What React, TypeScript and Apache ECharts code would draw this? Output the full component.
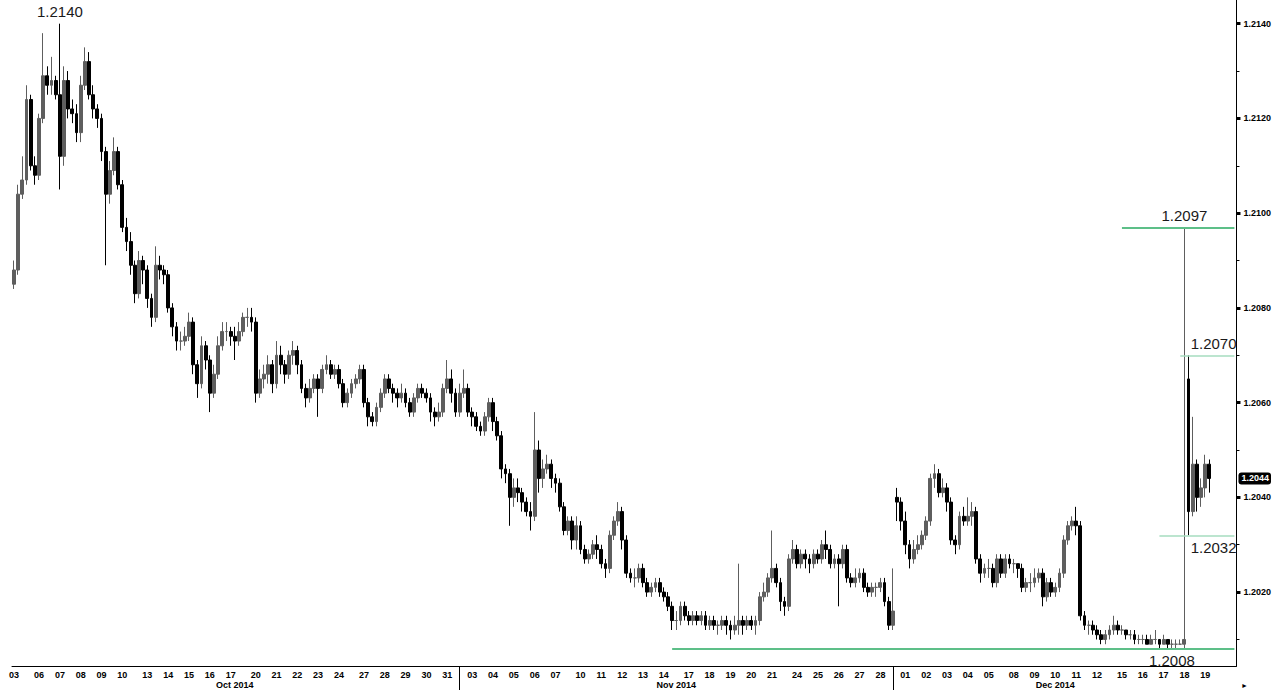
import React, { useEffect, useRef } from 'react';
import * as echarts from 'echarts';

// ---- Axis content ----
const octDays = ['03', '06', '07', '08', '09', '10', '13', '14', '15', '16', '17', '20', '21', '22', '23', '24', '27', '28', '29', '30', '31'];
const novDays = ['03', '04', '05', '06', '07', '10', '11', '12', '13', '14', '17', '18', '19', '20', '21', '24', '25', '26', '27', '28'];
const decDays = ['01', '02', '03', '04', '05', '08', '09', '10', '11', '12', '15', '16', '17', '18', '19'];
const monthKeys = ['Oct', 'Nov', 'Dec'];
const monthNames = ['Oct 2014', 'Nov 2014', 'Dec 2014'];
const monthNumbers = [9, 10, 11];

const yTickLabels = [1.2020, 1.2040, 1.2060, 1.2080, 1.2100, 1.2120, 1.2140];
const yMinorTicks = [1.2010, 1.2020, 1.2030, 1.2040, 1.2050, 1.2060, 1.2070, 1.2080, 1.2090, 1.2100, 1.2110, 1.2120, 1.2130, 1.2140];
const yMin = 1.20044;
const yMax = 1.2145;

// ---- OHLC bars [open, close, low, high], ~5 per trading day plus a Sunday slot ----
const wkOct03 = [
  [1.2085, 1.2088, 1.2084, 1.2090], [1.2088, 1.2104, 1.2087, 1.2106], [1.2104, 1.2107, 1.2103, 1.2112], [1.2107, 1.2124, 1.2106, 1.2127],
];
const wkOct06 = [
  [1.2124, 1.2110, 1.2109, 1.2125], [1.2110, 1.2108, 1.2106, 1.2112], [1.2108, 1.2120, 1.2107, 1.2121], [1.2120, 1.2129, 1.2119, 1.2138], [1.2129, 1.2127, 1.2125, 1.2131],
  [1.2127, 1.2128, 1.2125, 1.2133], [1.2128, 1.2125, 1.2124, 1.2129], [1.2125, 1.2112, 1.2105, 1.2140], [1.2112, 1.2128, 1.2110, 1.2131], [1.2128, 1.2122, 1.2120, 1.2130],
  [1.2122, 1.2121, 1.2119, 1.2124], [1.2121, 1.2117, 1.2115, 1.2123], [1.2117, 1.2127, 1.2115, 1.2129], [1.2127, 1.2132, 1.2126, 1.2135], [1.2132, 1.2125, 1.2124, 1.2134],
  [1.2125, 1.2122, 1.2120, 1.2127], [1.2122, 1.2120, 1.2118, 1.2123], [1.2120, 1.2113, 1.2111, 1.2121], [1.2113, 1.2104, 1.2089, 1.2114], [1.2104, 1.2109, 1.2102, 1.2111],
  [1.2109, 1.2113, 1.2108, 1.2116], [1.2113, 1.2106, 1.2105, 1.2114], [1.2106, 1.2097, 1.2096, 1.2107], [1.2097, 1.2094, 1.2092, 1.2099], [1.2094, 1.2089, 1.2087, 1.2096],
  [1.2089, 1.2083, 1.2081, 1.2090],
];
const wkOct13 = [
  [1.2083, 1.2090, 1.2082, 1.2092], [1.2090, 1.2088, 1.2085, 1.2091], [1.2088, 1.2082, 1.2080, 1.2089], [1.2082, 1.2078, 1.2076, 1.2083], [1.2078, 1.2089, 1.2077, 1.2093],
  [1.2089, 1.2088, 1.2086, 1.2091], [1.2088, 1.2087, 1.2085, 1.2089], [1.2087, 1.2080, 1.2079, 1.2088], [1.2080, 1.2076, 1.2074, 1.2081], [1.2076, 1.2073, 1.2071, 1.2077],
  [1.2073, 1.2073, 1.2071, 1.2075], [1.2073, 1.2074, 1.2072, 1.2076], [1.2074, 1.2077, 1.2073, 1.2079], [1.2077, 1.2068, 1.2066, 1.2078], [1.2068, 1.2064, 1.2061, 1.2069],
  [1.2064, 1.2072, 1.2063, 1.2074], [1.2072, 1.2069, 1.2067, 1.2073], [1.2069, 1.2062, 1.2058, 1.2070], [1.2062, 1.2066, 1.2061, 1.2068], [1.2066, 1.2072, 1.2065, 1.2074],
  [1.2072, 1.2075, 1.2071, 1.2077], [1.2075, 1.2075, 1.2073, 1.2077], [1.2075, 1.2074, 1.2072, 1.2076], [1.2074, 1.2073, 1.2069, 1.2076], [1.2073, 1.2075, 1.2072, 1.2077],
  [1.2075, 1.2078, 1.2074, 1.2079],
];
const wkOct20 = [
  [1.2078, 1.2078, 1.2076, 1.2080], [1.2078, 1.2077, 1.2075, 1.2080], [1.2077, 1.2062, 1.2060, 1.2078], [1.2062, 1.2065, 1.2061, 1.2067], [1.2065, 1.2066, 1.2063, 1.2068],
  [1.2066, 1.2068, 1.2064, 1.2070], [1.2068, 1.2064, 1.2062, 1.2069], [1.2064, 1.2070, 1.2063, 1.2073], [1.2070, 1.2068, 1.2066, 1.2072], [1.2068, 1.2066, 1.2064, 1.2069],
  [1.2066, 1.2070, 1.2065, 1.2071], [1.2070, 1.2071, 1.2068, 1.2073], [1.2071, 1.2068, 1.2066, 1.2072], [1.2068, 1.2063, 1.2062, 1.2069], [1.2063, 1.2061, 1.2059, 1.2064],
  [1.2061, 1.2063, 1.2060, 1.2065], [1.2063, 1.2065, 1.2062, 1.2066], [1.2065, 1.2063, 1.2057, 1.2066], [1.2063, 1.2067, 1.2062, 1.2068], [1.2067, 1.2068, 1.2066, 1.2070],
  [1.2068, 1.2066, 1.2065, 1.2069], [1.2066, 1.2067, 1.2065, 1.2068], [1.2067, 1.2064, 1.2063, 1.2068], [1.2064, 1.2060, 1.2059, 1.2065], [1.2060, 1.2062, 1.2059, 1.2063],
  [1.2062, 1.2064, 1.2061, 1.2065],
];
const wkOct27 = [
  [1.2064, 1.2065, 1.2063, 1.2066], [1.2065, 1.2067, 1.2064, 1.2068], [1.2067, 1.2060, 1.2059, 1.2068], [1.2060, 1.2057, 1.2055, 1.2061], [1.2057, 1.2056, 1.2055, 1.2058],
  [1.2056, 1.2059, 1.2055, 1.2060], [1.2059, 1.2062, 1.2058, 1.2063], [1.2062, 1.2065, 1.2061, 1.2066], [1.2065, 1.2063, 1.2062, 1.2066], [1.2063, 1.2062, 1.2060, 1.2064],
  [1.2062, 1.2061, 1.2059, 1.2063], [1.2061, 1.2062, 1.2060, 1.2064], [1.2062, 1.2060, 1.2059, 1.2063], [1.2060, 1.2058, 1.2057, 1.2061], [1.2058, 1.2061, 1.2057, 1.2062],
  [1.2061, 1.2063, 1.2060, 1.2064], [1.2063, 1.2062, 1.2061, 1.2064], [1.2062, 1.2061, 1.2060, 1.2063], [1.2061, 1.2058, 1.2056, 1.2062], [1.2058, 1.2057, 1.2055, 1.2059],
  [1.2057, 1.2058, 1.2056, 1.2060], [1.2058, 1.2063, 1.2057, 1.2064], [1.2063, 1.2065, 1.2062, 1.2069], [1.2065, 1.2062, 1.2060, 1.2067], [1.2062, 1.2058, 1.2057, 1.2063],
  [1.2058, 1.2062, 1.2057, 1.2064],
];
const wkNov03 = [
  [1.2062, 1.2063, 1.2061, 1.2067], [1.2063, 1.2058, 1.2057, 1.2064], [1.2058, 1.2057, 1.2055, 1.2059], [1.2057, 1.2055, 1.2054, 1.2058], [1.2055, 1.2054, 1.2053, 1.2056],
  [1.2054, 1.2057, 1.2053, 1.2058], [1.2057, 1.2060, 1.2056, 1.2061], [1.2060, 1.2056, 1.2054, 1.2061], [1.2056, 1.2053, 1.2052, 1.2057], [1.2053, 1.2046, 1.2044, 1.2054],
  [1.2046, 1.2045, 1.2043, 1.2047], [1.2045, 1.2040, 1.2034, 1.2046], [1.2040, 1.2042, 1.2038, 1.2044], [1.2042, 1.2041, 1.2039, 1.2044], [1.2041, 1.2039, 1.2037, 1.2042],
  [1.2039, 1.2037, 1.2036, 1.2040], [1.2037, 1.2036, 1.2033, 1.2039], [1.2036, 1.2050, 1.2035, 1.2058], [1.2050, 1.2044, 1.2041, 1.2052], [1.2044, 1.2046, 1.2042, 1.2048],
  [1.2046, 1.2047, 1.2045, 1.2049], [1.2047, 1.2044, 1.2042, 1.2048], [1.2044, 1.2043, 1.2041, 1.2045], [1.2043, 1.2038, 1.2037, 1.2044], [1.2038, 1.2033, 1.2032, 1.2039],
  [1.2033, 1.2035, 1.2032, 1.2036],
];
const wkNov10 = [
  [1.2035, 1.2031, 1.2029, 1.2036], [1.2031, 1.2034, 1.2029, 1.2036], [1.2034, 1.2029, 1.2028, 1.2035], [1.2029, 1.2027, 1.2026, 1.2030], [1.2027, 1.2028, 1.2026, 1.2029],
  [1.2028, 1.2030, 1.2027, 1.2031], [1.2030, 1.2029, 1.2027, 1.2032], [1.2029, 1.2026, 1.2025, 1.2030], [1.2026, 1.2025, 1.2023, 1.2027], [1.2025, 1.2032, 1.2024, 1.2033],
  [1.2032, 1.2035, 1.2031, 1.2036], [1.2035, 1.2037, 1.2034, 1.2039], [1.2037, 1.2031, 1.2029, 1.2038], [1.2031, 1.2024, 1.2023, 1.2032], [1.2024, 1.2023, 1.2022, 1.2025],
  [1.2023, 1.2023, 1.2021, 1.2025], [1.2023, 1.2025, 1.2022, 1.2026], [1.2025, 1.2022, 1.2021, 1.2026], [1.2022, 1.2020, 1.2019, 1.2023], [1.2020, 1.2021, 1.2019, 1.2022],
  [1.2021, 1.2022, 1.2020, 1.2023], [1.2022, 1.2020, 1.2019, 1.2023], [1.2020, 1.2019, 1.2018, 1.2021], [1.2019, 1.2017, 1.2016, 1.2020], [1.2017, 1.2014, 1.2012, 1.2018],
  [1.2014, 1.2014, 1.2012, 1.2016],
];
const wkNov17 = [
  [1.2014, 1.2017, 1.2013, 1.2018], [1.2017, 1.2015, 1.2014, 1.2018], [1.2015, 1.2014, 1.2013, 1.2016], [1.2014, 1.2015, 1.2013, 1.2016], [1.2015, 1.2014, 1.2013, 1.2016],
  [1.2014, 1.2015, 1.2013, 1.2016], [1.2015, 1.2013, 1.2012, 1.2016], [1.2013, 1.2014, 1.2012, 1.2015], [1.2014, 1.2013, 1.2012, 1.2015], [1.2013, 1.2013, 1.2011, 1.2014],
  [1.2013, 1.2014, 1.2012, 1.2015], [1.2014, 1.2013, 1.2011, 1.2015], [1.2013, 1.2012, 1.2010, 1.2014], [1.2012, 1.2013, 1.2011, 1.2015], [1.2013, 1.2014, 1.2011, 1.2026],
  [1.2014, 1.2013, 1.2011, 1.2015], [1.2013, 1.2014, 1.2012, 1.2015], [1.2014, 1.2013, 1.2012, 1.2015], [1.2013, 1.2014, 1.2011, 1.2015], [1.2014, 1.2019, 1.2013, 1.2020],
  [1.2019, 1.2020, 1.2018, 1.2022], [1.2020, 1.2023, 1.2019, 1.2024], [1.2023, 1.2025, 1.2022, 1.2033], [1.2025, 1.2022, 1.2021, 1.2026], [1.2022, 1.2018, 1.2016, 1.2023],
  [1.2018, 1.2017, 1.2015, 1.2019],
];
const wkNov24 = [
  [1.2017, 1.2027, 1.2016, 1.2028], [1.2027, 1.2029, 1.2026, 1.2031], [1.2029, 1.2026, 1.2025, 1.2030], [1.2026, 1.2028, 1.2025, 1.2029], [1.2028, 1.2027, 1.2025, 1.2029],
  [1.2027, 1.2026, 1.2024, 1.2028], [1.2026, 1.2028, 1.2025, 1.2029], [1.2028, 1.2027, 1.2026, 1.2029], [1.2027, 1.2030, 1.2026, 1.2031], [1.2030, 1.2029, 1.2027, 1.2033],
  [1.2029, 1.2026, 1.2025, 1.2030], [1.2026, 1.2027, 1.2025, 1.2028], [1.2027, 1.2026, 1.2017, 1.2028], [1.2026, 1.2029, 1.2025, 1.2030], [1.2029, 1.2023, 1.2022, 1.2030],
  [1.2023, 1.2022, 1.2021, 1.2024], [1.2022, 1.2023, 1.2021, 1.2025], [1.2023, 1.2024, 1.2022, 1.2025], [1.2024, 1.2021, 1.2020, 1.2025], [1.2021, 1.2020, 1.2019, 1.2022],
  [1.2020, 1.2021, 1.2019, 1.2022], [1.2021, 1.2021, 1.2019, 1.2022], [1.2021, 1.2022, 1.2020, 1.2023], [1.2022, 1.2018, 1.2017, 1.2023], [1.2018, 1.2013, 1.2012, 1.2019],
  [1.2013, 1.2016, 1.2012, 1.2025],
];
const wkDec01 = [
  [1.2040, 1.2039, 1.2035, 1.2042], [1.2039, 1.2035, 1.2033, 1.2040], [1.2035, 1.2030, 1.2028, 1.2037], [1.2030, 1.2027, 1.2025, 1.2031], [1.2027, 1.2029, 1.2026, 1.2031],
  [1.2029, 1.2030, 1.2028, 1.2032], [1.2030, 1.2032, 1.2029, 1.2033], [1.2032, 1.2035, 1.2031, 1.2036], [1.2035, 1.2044, 1.2034, 1.2045], [1.2044, 1.2045, 1.2042, 1.2047],
  [1.2045, 1.2041, 1.2040, 1.2046], [1.2041, 1.2042, 1.2040, 1.2044], [1.2042, 1.2039, 1.2037, 1.2043], [1.2039, 1.2031, 1.2030, 1.2040], [1.2031, 1.2030, 1.2028, 1.2032],
  [1.2030, 1.2036, 1.2029, 1.2037], [1.2036, 1.2035, 1.2034, 1.2038], [1.2035, 1.2036, 1.2034, 1.2040], [1.2036, 1.2037, 1.2034, 1.2039], [1.2037, 1.2027, 1.2026, 1.2038],
  [1.2027, 1.2024, 1.2022, 1.2028], [1.2024, 1.2025, 1.2023, 1.2026], [1.2025, 1.2025, 1.2023, 1.2027], [1.2025, 1.2022, 1.2021, 1.2026], [1.2022, 1.2027, 1.2021, 1.2028],
  [1.2027, 1.2024, 1.2023, 1.2028],
];
const wkDec08 = [
  [1.2024, 1.2027, 1.2023, 1.2028], [1.2027, 1.2026, 1.2025, 1.2028], [1.2026, 1.2026, 1.2024, 1.2027], [1.2026, 1.2025, 1.2023, 1.2026], [1.2025, 1.2021, 1.2020, 1.2026],
  [1.2021, 1.2022, 1.2020, 1.2023], [1.2022, 1.2022, 1.2020, 1.2024], [1.2022, 1.2023, 1.2021, 1.2025], [1.2023, 1.2024, 1.2022, 1.2025], [1.2024, 1.2019, 1.2017, 1.2025],
  [1.2019, 1.2022, 1.2018, 1.2023], [1.2022, 1.2020, 1.2019, 1.2023], [1.2020, 1.2021, 1.2019, 1.2022], [1.2021, 1.2024, 1.2020, 1.2025], [1.2024, 1.2031, 1.2023, 1.2032],
  [1.2031, 1.2034, 1.2030, 1.2035], [1.2034, 1.2035, 1.2033, 1.2036], [1.2035, 1.2034, 1.2032, 1.2038], [1.2034, 1.2015, 1.2014, 1.2035], [1.2015, 1.2013, 1.2012, 1.2016],
  [1.2013, 1.2013, 1.2011, 1.2014], [1.2013, 1.2012, 1.2011, 1.2014], [1.2012, 1.2011, 1.2010, 1.2013], [1.2011, 1.2010, 1.2009, 1.2012], [1.2010, 1.2011, 1.2009, 1.2012],
  [1.2011, 1.2012, 1.2010, 1.2013],
];
const wkDec15 = [
  [1.2012, 1.2013, 1.2011, 1.2015], [1.2013, 1.2012, 1.2011, 1.2014], [1.2012, 1.2012, 1.2011, 1.2013], [1.2012, 1.2011, 1.2010, 1.2012], [1.2011, 1.2011, 1.2010, 1.2012],
  [1.2011, 1.2010, 1.2009, 1.2012], [1.2010, 1.2010, 1.2009, 1.2011], [1.2010, 1.2010, 1.2009, 1.2011], [1.2010, 1.2009, 1.2009, 1.2011], [1.2009, 1.2010, 1.2009, 1.2011],
  [1.2010, 1.2010, 1.2009, 1.2012], [1.2010, 1.2009, 1.2008, 1.2010], [1.2009, 1.2010, 1.2009, 1.2011], [1.2010, 1.2009, 1.2008, 1.2010], [1.2009, 1.2009, 1.2008, 1.2010],
  [1.2009, 1.2009, 1.2008, 1.2010], [1.2009, 1.2009, 1.2009, 1.2010], [1.2009, 1.2010, 1.2008, 1.2097], [1.2065, 1.2037, 1.2032, 1.2070], [1.2037, 1.2047, 1.2036, 1.2057],
  [1.2047, 1.2040, 1.2037, 1.2048], [1.2040, 1.2042, 1.2038, 1.2044], [1.2042, 1.2047, 1.2040, 1.2049], [1.2047, 1.2044, 1.2041, 1.2048],
];

// ---- Annotated levels ----
const lastPrice = 1.2044;
const levelLines = [
  { value: 1.2097, from: 'Dec/15/2', strong: true },
  { value: 1.2070, from: 'Dec/18/1', strong: false },
  { value: 1.2032, from: 'Dec/17/1', strong: false },
  { value: 1.2008, from: 'Nov/14/4', strong: true },
];
const levelLabels = [
  { value: 1.2140, at: 'Oct/07/2', side: 'top' },
  { value: 1.2097, at: 'Dec/18/2', side: 'top' },
  { value: 1.2070, at: 'Dec/19/4', side: 'top' },
  { value: 1.2032, at: 'Dec/19/4', side: 'bottom' },
  { value: 1.2008, at: 'Dec/17/4', side: 'bottom' },
];

const SLOTS_PER_DAY = 5;
const FIRST_DAY_FIRST_SLOT = 2;
const TRAILING_SLOTS = 5;

function buildCategories() {
  const cats: string[] = [];
  const dayLabel: Record<number, string> = {};
  const monthLabel: Record<number, string> = {};
  const separators = new Set<number>();
  const allDays = [octDays, novDays, decDays];
  let first = true;
  allDays.forEach((days, mi) => {
    let monthFirst = -1;
    days.forEach((d) => {
      const dow = new Date(2014, monthNumbers[mi], Number(d)).getDay();
      if (!first && dow === 1) {
        if (monthFirst < 0 && mi > 0) separators.add(cats.length);
        cats.push(`Sun/${monthKeys[mi]}/${d}`);
      }
      const startSlot = first ? FIRST_DAY_FIRST_SLOT : 0;
      for (let s = startSlot; s < SLOTS_PER_DAY; s++) {
        if (monthFirst < 0) monthFirst = cats.length;
        if (s === 2) dayLabel[cats.length] = d;
        cats.push(`${monthKeys[mi]}/${d}/${s}`);
      }
      first = false;
    });
    const monthLast = cats.length - 1;
    monthLabel[Math.round((monthFirst + monthLast) / 2)] = monthNames[mi];
  });
  for (let i = 0; i < TRAILING_SLOTS; i++) cats.push(`end/${i}`);
  return { cats, dayLabel, monthLabel, separators };
}

export default function App() {
  const ref = useRef<HTMLDivElement>(null);
  useEffect(() => {
    if (!ref.current) return;
    const chart = echarts.init(ref.current, undefined, { renderer: 'svg' });
    const { cats, dayLabel, monthLabel, separators } = buildCategories();
    const bars = [
      ...wkOct03, ...wkOct06, ...wkOct13, ...wkOct20, ...wkOct27,
      ...wkNov03, ...wkNov10, ...wkNov17, ...wkNov24,
      ...wkDec01, ...wkDec08, ...wkDec15,
    ];
    const lastCat = cats[cats.length - 1];
    const font = 'Liberation Sans, Arial, sans-serif';
    const strongGreen = '#5dbf88';
    const lightGreen = '#a6dcbf';

    const markLineData: any[] = levelLines.map((l) => [
      {
        coord: [l.from, l.value],
        lineStyle: { color: l.strong ? strongGreen : lightGreen, width: l.strong ? 2 : 1.5, type: 'solid' },
      },
      { coord: [lastCat, l.value] },
    ]);

    const yBase = {
      type: 'value',
      position: 'right',
      min: yMin,
      max: yMax,
      splitLine: { show: false },
    };

    chart.setOption({
      animation: false,
      textStyle: { fontFamily: font },
      grid: { left: 12, right: 33, top: 0, bottom: 24, containLabel: false },
      xAxis: [
        {
          type: 'category',
          data: cats,
          boundaryGap: true,
          axisLine: { show: true, lineStyle: { color: '#000', width: 1 } },
          axisTick: { show: false },
          splitLine: { show: false },
          axisLabel: {
            interval: (i: number) => dayLabel[i] !== undefined,
            formatter: (_v: string, i: number) => dayLabel[i] ?? '',
            color: '#000',
            fontSize: 9,
            fontWeight: 'bold',
            margin: 4,
          },
        },
        {
          type: 'category',
          data: cats,
          position: 'bottom',
          boundaryGap: true,
          axisLine: { show: false },
          axisTick: {
            show: true,
            interval: (i: number) => separators.has(i),
            alignWithLabel: true,
            length: 24,
            lineStyle: { color: '#000', width: 1 },
          },
          splitLine: { show: false },
          axisLabel: {
            interval: (i: number) => monthLabel[i] !== undefined,
            formatter: (_v: string, i: number) => monthLabel[i] ?? '',
            color: '#000',
            fontSize: 9,
            fontWeight: 'bold',
            margin: 14,
          },
        },
      ],
      yAxis: [
        {
          ...yBase,
          axisLine: { show: true, lineStyle: { color: '#000', width: 1 } },
          axisTick: { show: true, customValues: yMinorTicks, length: 3, lineStyle: { color: '#000', width: 1 } },
          axisLabel: {
            customValues: yTickLabels,
            formatter: (v: number) => v.toFixed(4),
            color: '#000',
            fontSize: 9,
            fontWeight: 'bold',
            margin: 7,
          },
        },
        {
          ...yBase,
          axisLine: { show: false },
          axisTick: { show: true, customValues: yTickLabels, length: 4, lineStyle: { color: '#000', width: 3 } },
          axisLabel: { show: false },
        },
        {
          ...yBase,
          axisLine: { show: false },
          axisTick: { show: false },
          axisLabel: {
            customValues: [lastPrice],
            formatter: (v: number) => v.toFixed(4),
            color: '#fff',
            backgroundColor: '#000',
            borderRadius: 3,
            padding: [2, 2, 1, 3],
            fontSize: 9,
            fontWeight: 'bold',
            margin: 2,
          },
        },
      ],
      graphic: [
        { type: 'text', right: 26, bottom: 1, style: { text: '►', fontSize: 7, fill: '#000' } },
      ],
      series: [
        {
          type: 'candlestick',
          xAxisIndex: 0,
          yAxisIndex: 0,
          data: bars,
          barWidth: '80%',
          itemStyle: {
            color: '#5e5e5e',
            color0: '#000000',
            borderColor: '#5e5e5e',
            borderColor0: '#000000',
            borderWidth: 1,
          },
          markLine: {
            silent: true,
            symbol: ['none', 'none'],
            animation: false,
            label: { show: false },
            data: markLineData,
          },
          markPoint: {
            silent: true,
            symbol: 'circle',
            symbolSize: 1,
            itemStyle: { color: 'rgba(0,0,0,0)' },
            animation: false,
            data: levelLabels.map((l) => ({
              coord: [l.at, l.value],
              label: {
                show: true,
                position: l.side,
                distance: 4,
                formatter: l.value.toFixed(4),
                color: '#1a1a1a',
                fontSize: 15,
                fontFamily: font,
              },
            })),
          },
        },
      ],
    });
    return () => chart.dispose();
  }, []);
  return <div ref={ref} style={{ position: 'absolute', left: 0, top: 0, width: 1274, height: 690, background: '#fff' }} />;
}
